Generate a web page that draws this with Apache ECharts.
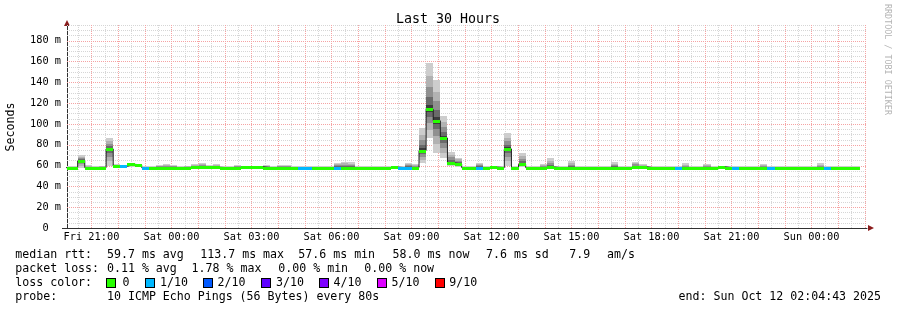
<!DOCTYPE html>
<html><head><meta charset="utf-8">
<script src="https://cdn.jsdelivr.net/npm/echarts@6/dist/echarts.min.js"></script>
<style>html,body{margin:0;padding:0;background:#fff}#c{width:897px;height:310px}</style>
</head><body><div id="c"></div>
<script>
// ---- time frame (minutes since Fri 00:00) ----
const START = 1205;          // Fri 20:05
const END = 3005;            // Sun 02:05
const BIN_MIN = 16;          // consolidation step (12 x 80 s)
const FIRST_BIN = 1197;

// ---- per-bin values (ms) ----
const median = [
 58,58,64.4,58,58,58,76,59.3,59.3,61.2,
 60.6,58,58,58,58,58,58,58,58.3,58.8,
 58.8,58.3,58,58,58,58.8,58.3,58.8,58,58,
 58,58,58,58,58,58,58,58,58,58,
 58,58,58,58,58,58,58.5,58,58,58,
 74.4,114,103,86.5,62.5,61.5,58,58,58,58,
 58.5,58,76,58,61.2,58,58,58,58.6,58,
 58,58,58,58,58,58,58,58,58,58,
 58.8,58.8,58,58,58,58,58,58,58,58,
 58,58,58.8,58,58,58,58,58,58,58,
 58,58,58,58,58,58,58,58,58,58,
 58,58
];
const smokeLo = [
 57.4,57.4,58,57.4,57.4,57.4,60,57.6,57.4,58.5,
 58.5,57.4,57.4,57.4,57.4,57.4,57.4,57.4,57.4,57.4,
 57.4,57.4,57.4,57.4,57.4,57.4,57.4,57.4,57.4,57.4,
 57.4,57.4,57.4,57.4,57.4,57.4,57.4,57.4,57.4,57.4,
 57.4,57.4,57.4,57.4,57.4,57.4,57.4,57.4,57.4,57.4,
 62,86,72,67,59.5,59,57.4,57.4,57.4,57.4,
 57.4,57.4,60,57.4,58.5,57.4,57.4,57.4,57,57.4,
 57.4,57.4,57.4,57.4,57.4,57.4,57.4,57.4,57.4,57.4,
 57.4,57.4,57.4,57.4,57.4,57.4,57.4,57.4,57.4,57.4,
 57.4,57.4,57.4,57.4,57.4,57.4,57.4,57.4,57.4,57.4,
 57.4,57.4,57.4,57.4,57.4,57.4,57.4,57.4,57.4,57.4,
 57.4,57.4
];
const smokeHi = [
 59.2,59.2,70,60.2,59.2,60,86,61,60.5,62,
 61.5,59.2,59.2,60.5,61,60.5,59.2,60,61,62,
 60.5,61,59.2,59.2,60.5,60,59.2,59.2,60.5,59.2,
 60.5,60.5,59.2,59.2,59.2,59.2,59.2,59.2,62.8,63.8,
 63,59.2,59.2,59.2,59.2,59.2,60,59.2,62.8,61,
 95.8,158.7,142,107.7,73.4,67.6,59.2,59.2,62.8,59.2,
 59.5,59.2,91,59.2,71.8,59.2,59.2,61,67,59.2,
 59.2,64,59.2,59.2,59.2,59.2,59.2,63,59.2,59.2,
 63.5,61,59.2,59.2,59.2,59.2,59.2,62,59.2,59.2,
 61,59.2,59.2,59.2,59.2,59.2,59.2,59.2,61,59.2,
 59.2,59.2,59.2,59.2,59.2,59.2,62,59.2,59.2,59.2,
 59.2,59.2
];
// loss level index per bin (0 = no loss, 1 = 1/10, ...)
const lossLevel = [
 0,0,0,0,0,0,0,0,1,0,
 0,1,0,0,0,0,0,0,0,0,
 0,0,0,0,0,0,0,0,0,0,
 0,0,0,1,1,0,0,0,1,0,
 0,0,0,0,0,0,0,1,1,0,
 0,0,0,0,0,0,0,0,1,0,
 0,0,0,0,0,0,0,0,0,0,
 0,0,0,0,0,0,0,0,0,0,
 0,0,0,0,0,0,1,0,0,0,
 0,0,0,0,1,0,0,0,0,1,
 0,0,0,0,0,0,0,1,0,0,
 0,0
];
const lossLabels = ['0','1/10','2/10','3/10','4/10','5/10','9/10'];
const lossColors = ['#26ff00','#00b8ff','#0059ff','#5e00ff','#7e00ff','#dd00ff','#ff0000'];

// ---- axes ----
const xTickTimes  = [1260,1440,1620,1800,1980,2160,2340,2520,2700,2880];
const xTickLabels = ['Fri 21:00','Sat 00:00','Sat 03:00','Sat 06:00','Sat 09:00','Sat 12:00','Sat 15:00','Sat 18:00','Sat 21:00','Sun 00:00'];
const yTickValues = [0,20,40,60,80,100,120,140,160,180];
const Y_MAX = 195;

// ---- legend text ----
const rttStats  = ['59.7 ms avg','113.7 ms max','57.6 ms min','58.0 ms now','7.6 ms sd','7.9','am/s'];
const lossStats = ['0.11 % avg','1.78 % max','0.00 % min','0.00 % now'];
const probeText = '10 ICMP Echo Pings (56 Bytes) every 80s';
const endText = 'end: Sun Oct 12 02:04:43 2025';
const titleText = 'Last 30 Hours';

const MONO = "'DejaVu Sans Mono', monospace";

// bin table
const bins = median.map((m, k) => [k, FIRST_BIN + BIN_MIN*k, FIRST_BIN + BIN_MIN*(k+1), m, smokeLo[k], smokeHi[k], lossLevel[k]]);
const stepLine = median.map((m, k) => [FIRST_BIN + BIN_MIN*k, m]);
stepLine.push([FIRST_BIN + BIN_MIN*median.length, median[median.length-1]]);

// grid lines (axis decorations)
const MAJOR = '#f5a3a3';
const MINOR = '#d6d6d6';
const vGrid = [];
for (let t = 1230; t < END; t += 30) vGrid.push([t, t % 60 === 0 ? 1 : 0]);
const hGrid = [];
for (let v = 5; v <= Y_MAX; v += 5) hGrid.push([START, v, v % 20 === 0 ? 1 : 0]);

const smokeFrac = [1, 0.72, 0.48, 0.26, 0.1];
const smokeCol = ['#cdcdcd','#b2b2b2','#909090','#6a6a6a','#3c3c3c'];

const chart = echarts.init(document.getElementById('c'), null, {renderer:'canvas'});
const option = {
  animation: false,
  backgroundColor: '#ffffff',
  grid: {left: 67, right: 30, top: 25, bottom: 82},
  xAxis: {
    type: 'value', min: START, max: END,
    axisLine: {show: true, lineStyle: {color: '#303030', width: 1}},
    axisTick: {show: false},
    splitLine: {show: false},
    axisLabel: {
      customValues: xTickTimes,
      formatter: v => { const i = xTickTimes.indexOf(v); return i >= 0 ? xTickLabels[i] : ''; },
      fontFamily: MONO, fontSize: 10.3, color: '#000', margin: 4
    }
  },
  yAxis: {
    type: 'value', min: 0, max: Y_MAX, interval: 20,
    axisLine: {show: true, lineStyle: {color: '#303030', width: 1}},
    axisTick: {show: false},
    splitLine: {show: false},
    axisLabel: {
      customValues: yTickValues,
      formatter: v => v === 0 ? '0  ' : (v % 20 === 0 ? v + ' m' : ''),
      fontFamily: MONO, fontSize: 10.3, color: '#000', margin: 6
    }
  },
  series: [
    { // vertical grid
      type: 'custom', z: 0, silent: true, clip: true,
      data: vGrid,
      encode: {x: 0, y: 1},
      renderItem: (params, api) => {
        const cs = params.coordSys;
        const x = Math.round(api.coord([api.value(0), 0])[0]) + 0.5;
        const maj = api.value(1);
        return {type: 'line', z2: maj ? 2 : 1, shape: {x1: x, y1: cs.y + cs.height, x2: x, y2: cs.y},
          style: {stroke: maj ? MAJOR : MINOR, lineWidth: 1, lineDash: [1, 1]}};
      }
    },
    { // horizontal grid
      type: 'custom', z: 0, silent: true, clip: true,
      data: hGrid,
      encode: {x: 0, y: 1},
      renderItem: (params, api) => {
        const cs = params.coordSys;
        const y = Math.round(api.coord([START, api.value(1)])[1]) + 0.5;
        const maj = api.value(2);
        return {type: 'line', z2: maj ? 2 : 1, shape: {x1: cs.x, y1: y, x2: cs.x + cs.width, y2: y},
          style: {stroke: maj ? MAJOR : MINOR, lineWidth: 1, lineDash: [1, 1]}};
      }
    },
    { // smoke
      type: 'custom', z: 2, silent: true, clip: true,
      data: bins,
      encode: {x: [1, 2], y: [3, 4, 5]},
      renderItem: (params, api) => {
        const cs = params.coordSys;
        const t0 = api.value(1), t1 = api.value(2), med = api.value(3), lo = api.value(4), hi = api.value(5);
        const x0 = Math.max(Math.round(api.coord([t0, 0])[0]), cs.x);
        const x1 = Math.min(Math.round(api.coord([t1, 0])[0]), cs.x + cs.width);
        const children = [];
        smokeFrac.forEach((f, j) => {
          const yt = Math.round(api.coord([t0, med + (hi - med) * f])[1]);
          const yb = Math.round(api.coord([t0, med - (med - lo) * f])[1]);
          if (yb - yt > 0) children.push({type: 'rect', shape: {x: x0, y: yt, width: x1 - x0, height: yb - yt}, style: {fill: smokeCol[j]}});
        });
        return {type: 'group', children};
      }
    },
    { // median black step line
      type: 'line', z: 3, silent: true, step: 'end', symbol: 'none', clip: true,
      data: stepLine,
      lineStyle: {color: '#202020', width: 1}
    },
    { // loss-coloured median
      type: 'custom', z: 4, silent: true, clip: true,
      data: bins,
      encode: {x: [1, 2], y: 3},
      renderItem: (params, api) => {
        const cs = params.coordSys;
        const t0 = api.value(1), t1 = api.value(2), med = api.value(3);
        const x0 = Math.max(Math.round(api.coord([t0, 0])[0]), cs.x);
        const x1 = Math.min(Math.round(api.coord([t1, 0])[0]), cs.x + cs.width);
        const y = Math.round(api.coord([t0, med])[1]);
        return {type: 'rect', shape: {x: x0, y: y - 1, width: x1 - x0, height: 3}, style: {fill: lossColors[api.value(6)]}};
      }
    }
  ],
  graphic: []
};

const G = [];
G.push({type: 'text', x: 448, y: 20, style: {text: titleText, font: '13.3px ' + MONO, fill: '#000', align: 'center', verticalAlign: 'middle'}});
G.push({type: 'text', x: 11, y: 127, rotation: Math.PI/2, style: {text: 'Seconds', font: '11.6px ' + MONO, fill: '#000', align: 'center', verticalAlign: 'middle'}});
G.push({type: 'text', x: 887, y: 4, rotation: -Math.PI/2, style: {text: 'RRDTOOL / TOBI OETIKER', font: '8.4px ' + MONO, fill: '#b4b4b4', align: 'left', verticalAlign: 'middle'}});
G.push({type: 'polygon', shape: {points: [[64, 26], [70, 26], [67, 20]]}, style: {fill: '#8b1c1c'}});
G.push({type: 'polygon', shape: {points: [[868, 225], [868, 231], [874, 228]]}, style: {fill: '#8b1c1c'}});
G.push({type: 'rect', shape: {x: 62, y: 228, width: 5, height: 1}, style: {fill: '#303030'}});
const LF = '11.6px ' + MONO;
const txt = (s, x, y, align) => G.push({type: 'text', x, y, style: {text: s, font: LF, fill: '#000', align: align || 'left', verticalAlign: 'middle'}});
const row1 = [107, 200.3, 298.3, 392.6, 486, 569.3, 607];
txt('median rtt:', 15.3, 254.5);
rttStats.forEach((s, i) => txt(s, row1[i], 254.5));
const row2 = [107, 191.6, 278.3, 364.3];
txt('packet loss:', 15.3, 268.5);
lossStats.forEach((s, i) => txt(s, row2[i], 268.5));
txt('loss color:', 15.3, 282.5);
const boxX = [106, 145, 203, 261, 319, 377, 435];
const labX = [122.6, 160, 217.6, 276, 333.6, 391.6, 449.3];
lossLabels.forEach((s, i) => {
  G.push({type: 'rect', shape: {x: boxX[i], y: 278, width: 10, height: 10}, style: {fill: '#000'}});
  G.push({type: 'rect', shape: {x: boxX[i] + 1, y: 279, width: 8, height: 8}, style: {fill: lossColors[i]}});
  txt(s, labX[i], 282.5);
});
txt('probe:', 15.3, 296.5);
txt(probeText, 107, 296.5);
txt(endText, 881, 296.5, 'right');
option.graphic = G;
chart.setOption(option);
</script>
</body></html>
